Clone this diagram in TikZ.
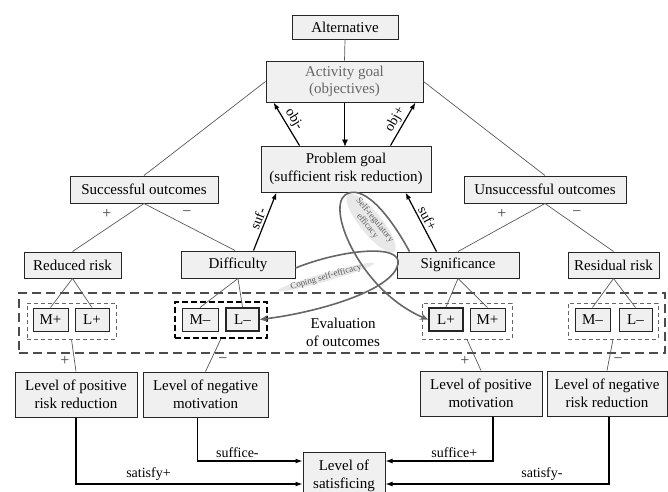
\documentclass[tikz,border=0pt]{standalone}
\usepackage{fontspec}
\setmainfont{Liberation Serif}
\usetikzlibrary{arrows.meta,calc,shapes.geometric}
\begin{document}
\begin{tikzpicture}[x=1pt,y=-1pt,
  box/.style={draw=black!85, fill=black!6, line width=1pt, inner sep=0pt, align=center, font=\fontsize{15}{17.5}\selectfont},
  sbox/.style={box, minimum height=23pt},
  tbox/.style={sbox, line width=2pt},
  grp/.style={draw=black!60, dash pattern=on 4pt off 3pt, line width=0.8pt, inner sep=0pt, minimum height=36pt},
  tree/.style={draw=black!65, line width=0.7pt},
  arr/.style={draw=black, line width=1.2pt, -{Latex[length=7pt,width=5pt]}},
  lab/.style={font=\fontsize{14}{16}\selectfont},
  sgn/.style={font=\fontsize{16}{18}\selectfont, text=black!75},
  eff/.style={draw=black!60, line width=1.6pt, -{Stealth[length=8pt,width=7pt]}},
  efflab/.style={font=\fontsize{9}{9.5}\selectfont, text=black!65, fill=black!9, ellipse, inner sep=-1.2pt, align=center}
]
\useasboundingbox (0,0) rectangle (668,491);

% evaluation frame
\node[draw=black!70, dash pattern=on 9pt off 5pt, line width=1.6pt, minimum width=646pt, minimum height=60pt, inner sep=0pt] (eval) at (342,323) {};
\node[font=\fontsize{15}{18}\selectfont, align=center] (evaltxt) at (343,332) {Evaluation\\of outcomes};

% groups
\node[grp, minimum width=89pt] (g1) at (71.5,321) {};
\node[grp, minimum width=92pt, draw=black, line width=1.4pt, dash pattern=on 6pt off 3pt] (g2) at (221,320) {};
\node[grp, minimum width=90pt] (g3) at (467,321) {};
\node[grp, minimum width=90pt] (g4) at (613,321) {};

% top boxes
\node[box, minimum width=106pt, minimum height=24pt] (alt) at (345,27) {Alternative};
\node[box, minimum width=157pt, minimum height=41pt, text=black!60] (act) at (344.5,81.5) {Activity goal\\(objectives)};
\node[box, minimum width=170pt, minimum height=46pt] (prob) at (346,169) {Problem goal\\(sufficient risk reduction)};
\node[box, minimum width=148pt, minimum height=27pt] (succ) at (144,189.5) {Successful outcomes};
\node[box, minimum width=162pt, minimum height=27pt] (unsucc) at (545,189.5) {Unsuccessful outcomes};

\node[box, minimum width=97pt, minimum height=26pt] (red) at (72.5,265) {Reduced risk};
\node[box, minimum width=114pt, minimum height=27pt] (diff) at (238,264.5) {Difficulty};
\node[box, minimum width=122pt, minimum height=26pt] (sig) at (458,265) {Significance};
\node[box, minimum width=91pt, minimum height=26pt] (res) at (613.5,265) {Residual risk};

% small boxes
\node[sbox, minimum width=35pt] (mp1) at (50.5,319.5) {M+};
\node[sbox, minimum width=34pt] (lp1) at (92,319.5) {L+};
\node[sbox, minimum width=36pt] (mm2) at (200,319.5) {M–};
\node[tbox, minimum width=33pt] (lm2) at (242.5,319.5) {L–};
\node[tbox, minimum width=34pt] (lp3) at (446,319.5) {L+};
\node[sbox, minimum width=35pt] (mp3) at (487.5,319.5) {M+};
\node[sbox, minimum width=35pt] (mm4) at (592.5,319.5) {M–};
\node[sbox, minimum width=33pt] (lm4) at (635.5,319.5) {L–};

% bottom boxes
\node[box, minimum width=122pt, minimum height=45pt] (lprr) at (76,394.5) {Level of positive\\risk reduction};
\node[box, minimum width=125pt, minimum height=45pt] (lnm) at (205.5,394.5) {Level of negative\\motivation};
\node[box, minimum width=122pt, minimum height=45pt] (lpm) at (481,393.5) {Level of positive\\motivation};
\node[box, minimum width=120pt, minimum height=45pt] (lnrr) at (607,393.5) {Level of negative\\risk reduction};
\node[box, minimum width=82pt, minimum height=48pt] (sat) at (344,476) {Level of\\satisficing};

% tree lines
\draw[tree] (alt.south) -- (act.north);
\draw[tree] (act.west) -- (succ.north);
\draw[tree] (act.east) -- (unsucc.north);
\draw[tree] (succ.south) -- (red.north);
\draw[tree] (succ.south) -- ($(diff.north)+(-3,0)$);
\draw[tree] (unsucc.south) -- (sig.north);
\draw[tree] (unsucc.south) -- (res.north);
\draw[tree] (red.south) -- (mp1.north);
\draw[tree] (red.south) -- (lp1.north);
\draw[tree] (diff.south) -- (mm2.north);
\draw[tree] (diff.south) -- (lm2.north);
\draw[tree] (sig.south) -- (lp3.north);
\draw[tree] (sig.south) -- (mp3.north);
\draw[tree] (res.south) -- (mm4.north);
\draw[tree] (res.south) -- (lm4.north);
\draw[tree] (g1.south) -- (lprr.north);
\draw[tree] (g2.south) -- (lnm.north);
\draw[tree] (g3.south) -- (lpm.north);
\draw[tree] (g4.south) -- (lnrr.north);

% signs
\node[sgn] (s1) at (107,214) {+};
\node[sgn] (s2) at (187,214) {−};
\node[sgn] (s3) at (502,214) {+};
\node[sgn] (s4) at (577,214) {−};
\node[sgn] (s5) at (65,361) {+};
\node[sgn] (s6) at (223,361) {−};
\node[sgn] (s7) at (465,361) {+};
\node[sgn] (s8) at (618,361) {−};

% goal arrows
\draw[arr] ($(prob.north west)+(39,0)$) -- node[lab, sloped, above, inner sep=2pt] {obj-} ($(act.south west)+(8,0)$);
\draw[arr] ($(prob.north east)+(-41,0)$) -- node[lab, sloped, above, inner sep=2pt] {obj+} ($(act.south east)+(-8,0)$);
\draw[draw=black, double=white, double distance=1pt, line width=0.6pt, -{Latex[length=7pt,width=6pt]}] ($(act.south)+(0.5,0)$) -- ($(act.south)+(0.5,44)$);
\draw[arr] ($(diff.north west)+(73,0)$) -- node[lab, sloped, above, inner sep=2pt] {suf-} ($(prob.south west)+(16,0)$);
\draw[arr] ($(sig.north west)+(40,0)$) -- node[lab, sloped, above, inner sep=2pt] {suf+} ($(prob.south east)+(-26,0)$);

% efficacy curves
\node[efflab, rotate=-51] (sre) at (371,223) {Self-regulatory\\efficacy};
\node[efflab, rotate=16] (cse) at (326,277) {Coping self-efficacy};
\draw[eff] ($(sig.north west)+(13,0)$) .. controls (388,212) and (362,183) .. (345,195) .. controls (326,210) and (362,292) .. (lp3.west);
\draw[eff] ($(diff.east)+(0,3.5)$) .. controls (340,250) and (402,243) .. (398,264) .. controls (393,290) and (320,312) .. (lm2.east);

% bottom arrows
\draw[arr] (lprr.south) |- node[lab, pos=0.66, above, inner sep=3pt] {satisfy+} ($(sat.west)+(0,8)$);
\draw[arr] ($(lnm.south)+(-8,0)$) |- node[lab, pos=0.69, above, inner sep=3pt] {suffice-} ($(sat.west)+(0,-15)$);
\draw[arr] ($(lpm.south)+(12,0)$) |- node[lab, pos=0.68, above, inner sep=3pt] {suffice+} ($(sat.east)+(0,-15)$);
\draw[arr] ($(lnrr.south)+(2,0)$) |- node[lab, pos=0.65, above, inner sep=3pt] {satisfy-} ($(sat.east)+(0,8)$);
\end{tikzpicture}
\end{document}
